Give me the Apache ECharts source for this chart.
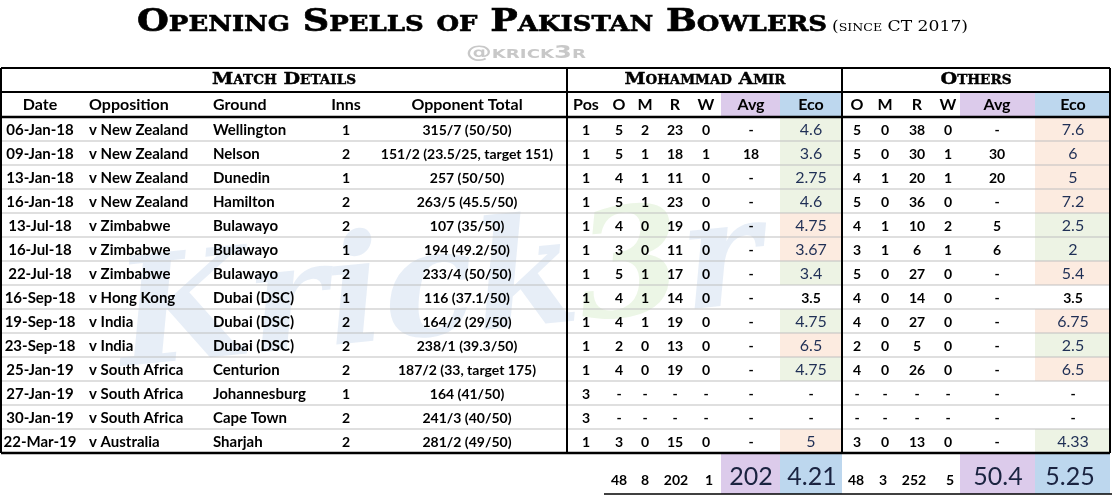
<!DOCTYPE html>
<html>
<head>
<meta charset="utf-8">
<title>Opening Spells of Pakistan Bowlers</title>
<script src="https://cdn.jsdelivr.net/npm/echarts@6/dist/echarts.min.js"></script>
<style>
    * { margin: 0; padding: 0; }
    body { background: #fff; }
</style>
</head>
<body>
<div id="main" style="width: 1112px; height: 496px;"></div>
<script type="text/javascript">

// match details
var dates = ['06-Jan-18', '09-Jan-18', '13-Jan-18', '16-Jan-18', '13-Jul-18', '16-Jul-18', '22-Jul-18',
    '16-Sep-18', '19-Sep-18', '23-Sep-18', '25-Jan-19', '27-Jan-19', '30-Jan-19', '22-Mar-19'];
var opposition = ['v New Zealand', 'v New Zealand', 'v New Zealand', 'v New Zealand', 'v Zimbabwe', 'v Zimbabwe',
    'v Zimbabwe', 'v Hong Kong', 'v India', 'v India', 'v South Africa', 'v South Africa', 'v South Africa', 'v Australia'];
var grounds = ['Wellington', 'Nelson', 'Dunedin', 'Hamilton', 'Bulawayo', 'Bulawayo', 'Bulawayo',
    'Dubai (DSC)', 'Dubai (DSC)', 'Dubai (DSC)', 'Centurion', 'Johannesburg', 'Cape Town', 'Sharjah'];
var inns = ['1', '2', '1', '2', '2', '1', '2', '1', '2', '2', '2', '1', '2', '2'];
var oppTotals = ['315/7 (50/50)', '151/2 (23.5/25, target 151)', '257 (50/50)', '263/5 (45.5/50)', '107 (35/50)',
    '194 (49.2/50)', '233/4 (50/50)', '116 (37.1/50)', '164/2 (29/50)', '238/1 (39.3/50)', '187/2 (33, target 175)',
    '164 (41/50)', '241/3 (40/50)', '281/2 (49/50)'];

// Mohammad Amir
var amirPos = ['1', '1', '1', '1', '1', '1', '1', '1', '1', '1', '1', '3', '3', '1'];
var amirO = ['5', '5', '4', '5', '4', '3', '5', '4', '4', '2', '4', '-', '-', '3'];
var amirM = ['2', '1', '1', '1', '0', '0', '1', '1', '1', '0', '0', '-', '-', '0'];
var amirR = ['23', '18', '11', '23', '19', '11', '17', '14', '19', '13', '19', '-', '-', '15'];
var amirW = ['0', '1', '0', '0', '0', '0', '0', '0', '0', '0', '0', '-', '-', '0'];
var amirAvg = ['-', '18', '-', '-', '-', '-', '-', '-', '-', '-', '-', '-', '-', '-'];
var amirEco = ['4.6', '3.6', '2.75', '4.6', '4.75', '3.67', '3.4', '3.5', '4.75', '6.5', '4.75', '-', '-', '5'];

// other bowlers
var othO = ['5', '5', '4', '5', '4', '3', '5', '4', '4', '2', '4', '-', '-', '3'];
var othM = ['0', '0', '1', '0', '1', '1', '0', '0', '0', '0', '0', '-', '-', '0'];
var othR = ['38', '30', '20', '36', '10', '6', '27', '14', '27', '5', '26', '-', '-', '13'];
var othW = ['0', '1', '1', '0', '2', '1', '0', '0', '0', '0', '0', '-', '-', '0'];
var othAvg = ['-', '30', '20', '-', '5', '6', '-', '-', '-', '-', '-', '-', '-', '-'];
var othEco = ['7.6', '6', '5', '7.2', '2.5', '2', '5.4', '3.5', '6.75', '2.5', '6.5', '-', '-', '4.33'];

// totals
var amirTotals = ['48', '8', '202', '1', '202', '4.21'];
var othTotals = ['48', '3', '252', '5', '50.4', '5.25'];

// layout
var FONT = 'Lato, "Noto Sans", sans-serif';
var CAPS = '"DejaVu Serif", serif';
var PURPLE = '#dccbeb', BLUE = '#bdd7ee', GREEN = '#edf3e4', ORANGE = '#fcebe0', NAVY = '#1f2f55';
var TOP = 68, H1 = 92, H2 = 117, BOT = 453, RIGHT = 1110;

var columns = [
    { name: 'Date', x: 40, align: 'center', vals: dates, size: 15 },
    { name: 'Opposition', x: 89, align: 'left', vals: opposition, size: 15 },
    { name: 'Ground', x: 213, align: 'left', vals: grounds, size: 15 },
    { name: 'Inns', x: 346, align: 'center', vals: inns, size: 14 },
    { name: 'Opponent Total', x: 467, align: 'center', vals: oppTotals, size: 14 },
    { name: 'Pos', x: 586, align: 'center', vals: amirPos, size: 14 },
    { name: 'O', x: 619, align: 'center', vals: amirO, size: 14 },
    { name: 'M', x: 645, align: 'center', vals: amirM, size: 14 },
    { name: 'R', x: 675, align: 'center', vals: amirR, size: 14 },
    { name: 'W', x: 706, align: 'center', vals: amirW, size: 14 },
    { name: 'Avg', x: 751, align: 'center', vals: amirAvg, size: 14 },
    { name: 'Eco', x: 811, align: 'center', vals: amirEco, size: 14, eco: 0 },
    { name: 'O', x: 857, align: 'center', vals: othO, size: 14 },
    { name: 'M', x: 885, align: 'center', vals: othM, size: 14 },
    { name: 'R', x: 917, align: 'center', vals: othR, size: 14 },
    { name: 'W', x: 948, align: 'center', vals: othW, size: 14 },
    { name: 'Avg', x: 997, align: 'center', vals: othAvg, size: 14 },
    { name: 'Eco', x: 1073, align: 'center', vals: othEco, size: 14, eco: 1 }
];
var ecoCells = [[780, 842], [1035, RIGHT]];
var avgCells = [[721, 780], [960, 1035]];
var totalX = [[619, 645, 676, 709, 751, 812], [856, 883, 914, 950, 998, 1070]];

// which eco cell is the better one in a row: -1 none
function better(i) {
    var a = parseFloat(amirEco[i]), o = parseFloat(othEco[i]);
    if (isNaN(a) || isNaN(o) || a === o) return -1;
    return a < o ? 0 : 1;
}

function renderRow(params, api) {
    var i = api.value(0);
    var y = api.coord([0, i])[1];
    var h = api.size([0, 1])[1];
    var kids = [];
    var b = better(i);
    if (b >= 0) {
        for (var k = 0; k < 2; k++) {
            var x0 = api.coord([ecoCells[k][0], i])[0], x1 = api.coord([ecoCells[k][1], i])[0];
            kids.push({
                type: 'rect', z2: 0,
                shape: { x: x0, y: y - h / 2, width: x1 - x0, height: h },
                style: { fill: k === b ? GREEN : ORANGE }
            });
        }
    }
    if (i < dates.length - 1) {
        kids.push({
            type: 'line', z2: 1,
            shape: { x1: 0, y1: y + h / 2, x2: RIGHT, y2: y + h / 2 },
            style: { stroke: '#bfbfbf', lineWidth: 1.2 }
        });
    }
    columns.forEach(function (col) {
        var isEco = col.eco !== undefined && b >= 0;
        kids.push({
            type: 'text', z2: 5,
            x: api.coord([col.x, i])[0], y: y + 1,
            style: {
                text: col.vals[i],
                align: col.align, verticalAlign: 'middle',
                fontFamily: FONT,
                fontSize: isEco ? 16 : col.size,
                fontWeight: isEco ? 'normal' : 'bold',
                fill: isEco ? NAVY : '#000'
            }
        });
    });
    return { type: 'group', children: kids };
}

// stretch wide caps text to the width it has in the picture
var measureCtx = document.createElement('canvas').getContext('2d');
function fitScale(s, font, w) {
    measureCtx.font = font;
    return w / measureCtx.measureText(s).width;
}

// static header, borders and totals
var graphics = [];
function txt(x, y, s, style, scaleX) {
    graphics.push({
        type: 'text', x: x, y: y, z: 10, scaleX: scaleX || 1,
        style: Object.assign({ text: s, verticalAlign: 'middle', align: 'center' }, style)
    });
}
function capsTxt(x, y, s, font, w, fill, stroke) {
    txt(x, y, s, { font: font, fill: fill, stroke: stroke ? fill : null, lineWidth: stroke || 0 }, fitScale(s, font, w));
}
function box(x0, y0, x1, y1, fill) {
    graphics.push({ type: 'rect', z: 1, shape: { x: x0, y: y0, width: x1 - x0, height: y1 - y0 }, style: { fill: fill } });
}
function line(x1, y1, x2, y2, w) {
    graphics.push({ type: 'line', z: 20, shape: { x1: x1, y1: y1, x2: x2, y2: y2 }, style: { stroke: '#000', lineWidth: w } });
}

// watermark
graphics.push({
    type: 'text', x: 440, y: 295, z: 0, rotation: 0.1,
    style: {
        text: '{a|Krick}{b|3}{a|r}', align: 'center', verticalAlign: 'middle',
        rich: {
            a: { fontFamily: '"DejaVu Serif", serif', fontStyle: 'italic', fontWeight: 'bold', fontSize: 150, fill: 'rgba(70,120,190,0.13)' },
            b: { fontFamily: '"DejaVu Serif", serif', fontStyle: 'italic', fontWeight: 'bold', fontSize: 150, fill: 'rgba(120,190,80,0.14)' }
        }
    }
});

capsTxt(482, 23, 'Opening Spells of Pakistan Bowlers', 'small-caps bold 31px ' + CAPS, 690, '#000', 0.6);
capsTxt(900, 27, '(since CT 2017)', 'small-caps normal 15px ' + CAPS, 136, '#000');
capsTxt(526, 54, '@krick3r', 'small-caps bold 17px "DejaVu Sans", sans-serif', 120, '#c8c8c8');

capsTxt(284, 80, 'Match Details', 'small-caps bold 17px ' + CAPS, 144, '#000', 0.4);
capsTxt(705, 80, 'Mohammad Amir', 'small-caps bold 17px ' + CAPS, 161, '#000', 0.4);
capsTxt(976, 80, 'Others', 'small-caps bold 17px ' + CAPS, 71, '#000', 0.4);

for (var k = 0; k < 2; k++) {
    box(avgCells[k][0], H1, avgCells[k][1], H2, PURPLE);
    box(ecoCells[k][0], H1, ecoCells[k][1], H2, BLUE);
    box(avgCells[k][0], BOT + 1, avgCells[k][1], 494, PURPLE);
    box(ecoCells[k][0], BOT + 1, ecoCells[k][1], 494, BLUE);
}
columns.forEach(function (col) {
    txt(col.x, 105, col.name, { align: col.align, fontFamily: FONT, fontSize: 16, fontWeight: 'bold', fill: '#000' });
});

[amirTotals, othTotals].forEach(function (tot, k) {
    tot.forEach(function (v, j) {
        var big = j >= 4;
        txt(totalX[k][j], big ? 477 : 480, v, {
            fontFamily: FONT, fontSize: big ? 25 : 14, fontWeight: big ? 'normal' : 'bold', fill: big ? '#1a2340' : '#000'
        });
    });
});

line(1, TOP, RIGHT, TOP, 2);
line(1, H1, RIGHT, H1, 2);
line(1, H2, RIGHT, H2, 2.5);
line(1, BOT, RIGHT, BOT, 2.5);
line(1, TOP, 1, BOT, 2);
line(RIGHT, TOP, RIGHT, BOT, 2);
line(567, TOP, 567, BOT, 2);
line(842, TOP, 842, BOT, 2);
line(604, 494, 1112, 494, 1.5);

var myChart = echarts.init(document.getElementById('main'));
var option = {
    backgroundColor: '#fff',
    animation: false,
    grid: { left: 0, right: 0, top: H2, bottom: 496 - BOT },
    xAxis: { type: 'value', min: 0, max: 1112, show: false },
    yAxis: { type: 'category', data: dates, inverse: true, show: false },
    graphic: graphics,
    series: [{
        type: 'custom',
        renderItem: renderRow,
        data: dates.map(function (d, i) { return [i]; }),
        encode: { y: 0 },
        silent: true
    }]
};
myChart.setOption(option);
</script>
</body>
</html>
